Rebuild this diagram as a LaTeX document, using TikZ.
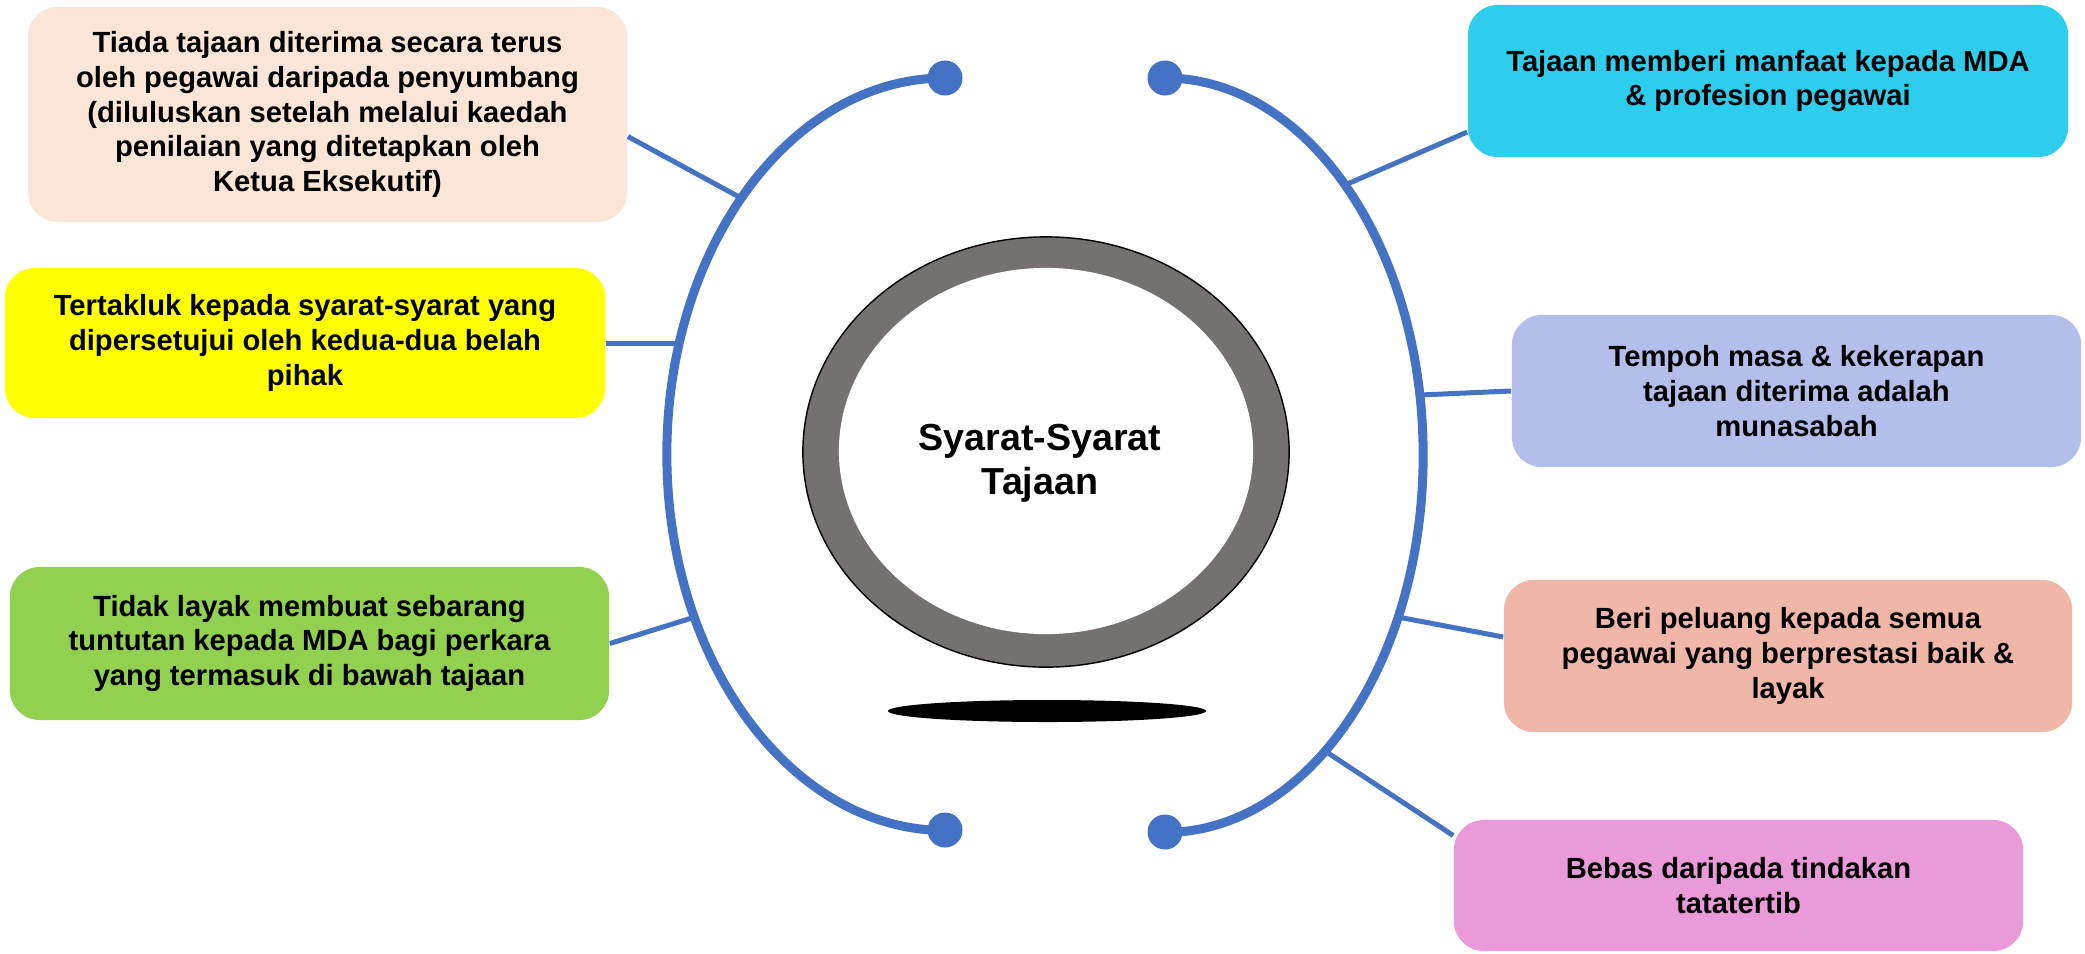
\documentclass[tikz,border=0pt]{standalone}
\usepackage{fontspec}
\setmainfont{Liberation Sans}
\usepackage{tikz}

\definecolor{peach}{HTML}{FBE5D6}
\definecolor{lemon}{HTML}{FFFF00}
\definecolor{leaf}{HTML}{92D050}
\definecolor{sky}{HTML}{2ECDED}
\definecolor{lilac}{HTML}{B3BEEB}
\definecolor{salmon}{HTML}{F0B6A8}
\definecolor{orchid}{HTML}{EA99D9}
\definecolor{ringgray}{HTML}{767171}
\definecolor{blu}{HTML}{4472C4}

\begin{document}
\begin{tikzpicture}[x=0.01cm,y=0.01cm,
  box/.style={rounded corners=0.3cm,align=center,inner sep=0pt,font=\fontsize{8.3}{9.9}\selectfont\bfseries},
  dot/.style={circle,fill=blu,inner sep=0pt,minimum size=0.35cm},
  rim/.style={draw=blu,line width=0.09cm},
  ln/.style={draw=blu,line width=0.05cm}]
  \useasboundingbox (0,0) rectangle (2085,953);
  % centre ring and its shadow
  \fill[black] (1047,242) ellipse [x radius=1.59cm, y radius=0.11cm];
  \draw[fill=ringgray,draw=black,line width=0.4pt] (1046,501) ellipse [x radius=2.43cm, y radius=2.15cm];
  \fill[white] (1046,502) ellipse [x radius=2.07cm, y radius=1.83cm];
  \node[font=\fontsize{10.7}{12.5}\selectfont\bfseries,align=center] (hub) at (1040,490) {Syarat-Syarat\\Tajaan};
  % end dots and the two arcs
  \node[dot] (lt) at (945,875) {};
  \node[dot] (lb) at (945,123) {};
  \node[dot] (rt) at (1165,875) {};
  \node[dot] (rb) at (1165,121) {};
  \draw[rim] (lt.center) arc[start angle=90,end angle=270,x radius=2.78cm,y radius=3.76cm];
  \draw[rim] (rt.center) arc[start angle=90,end angle=-90,x radius=2.58cm,y radius=3.77cm];
  % boxes
  \node[box,fill=peach,minimum width=5.99cm,minimum height=2.15cm] (tiada) at (327.5,838.5)
    {Tiada tajaan diterima secara terus\\oleh pegawai daripada penyumbang\\(diluluskan setelah melalui kaedah\\penilaian yang ditetapkan oleh\\Ketua Eksekutif)};
  \node[box,fill=lemon,minimum width=6cm,minimum height=1.5cm] (takluk) at (305,610)
    {Tertakluk kepada syarat-syarat yang\\dipersetujui oleh kedua-dua belah\\pihak};
  \node[box,fill=leaf,minimum width=5.99cm,minimum height=1.53cm] (tuntut) at (309.5,309.5)
    {Tidak layak membuat sebarang\\tuntutan kepada MDA bagi perkara\\yang termasuk di bawah tajaan};
  \node[box,fill=sky,minimum width=6cm,minimum height=1.52cm] (faedah) at (1768,872)
    {Tajaan memberi manfaat kepada MDA\\\& profesion pegawai};
  \node[box,fill=lilac,minimum width=5.69cm,minimum height=1.52cm] (tempoh) at (1796.5,562)
    {Tempoh masa \& kekerapan\\tajaan diterima adalah\\munasabah};
  \node[box,fill=salmon,minimum width=5.68cm,minimum height=1.52cm] (peluang) at (1788,297)
    {Beri peluang kepada semua\\pegawai yang berprestasi baik \&\\layak};
  \node[box,fill=orchid,minimum width=5.69cm,minimum height=1.31cm] (bebas) at (1738.5,67.5)
    {Bebas daripada tindakan\\tatatertib};
  % joins on the arcs
  \coordinate (j1) at (741,755);
  \coordinate (j2) at (680,610);
  \coordinate (j3) at (695,336);
  \coordinate (j4) at (1345,768);
  \coordinate (j5) at (1420,558);
  \coordinate (j6) at (1398,336);
  \coordinate (j7) at (1325,202);
  \draw[ln] ([yshift=-0.22cm]tiada.east) -- (j1);
  \draw[ln] (takluk.east) -- (j2);
  \draw[ln] (tuntut.east) -- (j3);
  \draw[ln] ([yshift=-0.51cm]faedah.west) -- (j4);
  \draw[ln] (tempoh.west) -- (j5);
  \draw[ln] ([yshift=0.19cm]peluang.west) -- (j6);
  \draw[ln] ([yshift=0.5cm]bebas.west) -- (j7);
\end{tikzpicture}
\end{document}
